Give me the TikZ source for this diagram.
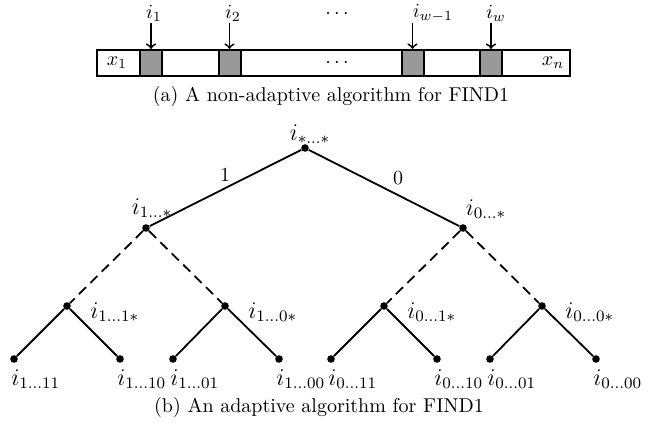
\documentclass[tikz,border=0pt]{standalone}
\usetikzlibrary{calc}
\begin{document}
\begin{tikzpicture}[x=0.5pt,y=0.5pt,
  cellbox/.style={draw, line width=1pt, minimum height=13pt, inner sep=0pt},
  graycell/.style={cellbox, fill=gray!80, minimum width=11pt},
  arr/.style={->, line width=0.9pt},
  dot/.style={circle, fill=black, inner sep=0pt, minimum size=3.8pt},
  lbl/.style={inner sep=0pt},
  tlbl/.style={inner sep=0pt, font=\large},
  solidedge/.style={line width=0.9pt},
  dashededge/.style={line width=0.9pt, dash pattern=on 5pt off 3pt}]
\useasboundingbox (0,0) rectangle (653,-431);
% (a) array
\node[cellbox, minimum width=236.5pt] (box) at (333.5,-63) {};
\node[graycell] (c1) at (151,-63) {};
\node[graycell] (c2) at (229.5,-63) {};
\node[graycell] (c3) at (412.5,-63) {};
\node[graycell] (c4) at (491,-63) {};
\node[lbl] (x1) at (117,-63) {$x_1$};
\node[lbl] (xd) at (337,-63) {$\cdots$};
\node[lbl] (xn) at (553,-63) {$x_n$};
\coordinate (a1) at ([yshift=13pt]c1.north);
\coordinate (a2) at ([yshift=13pt]c2.north);
\coordinate (a3) at ([yshift=13pt]c3.north);
\coordinate (a4) at ([yshift=13pt]c4.north);
\draw[arr] (a1) -- (c1.north);
\draw[arr] (a2) -- (c2.north);
\draw[arr] (a3) -- (c3.north);
\draw[arr] (a4) -- (c4.north);
\node[lbl] (i1) at (154,-13) {$i_1$};
\node[lbl] (i2) at (233,-13) {$i_2$};
\node[lbl] (id) at (337,-14) {$\cdots$};
\node[lbl] (iw1) at (433,-13) {$i_{w-1}$};
\node[lbl] (iw) at (496,-13) {$i_w$};
\node (capa) at (331,-97) {(a) A non-adaptive algorithm for FIND1};
% (b) tree
\node[dot] (r) at (305,-148) {};
\node[dot] (m1) at (146,-228) {};
\node[dot] (m0) at (463,-228) {};
\node[dot] (n11) at (67,-306) {};
\node[dot] (n10) at (225,-306) {};
\node[dot] (n01) at (384,-306) {};
\node[dot] (n00) at (542,-306) {};
\foreach \nm/\xx in {l111/14, l110/120, l101/173, l100/279, l011/331, l010/437, l001/490, l000/596}
  \node[dot] (\nm) at (\xx,-359) {};
\draw[solidedge] (r) -- (m1);
\draw[solidedge] (r) -- (m0);
\node[lbl] (e1) at (225,-175) {$1$};
\node[lbl] (e0) at (398,-178) {$0$};
\draw[dashededge] (m1) -- (n11);
\draw[dashededge] (m1) -- (n10);
\draw[dashededge] (m0) -- (n01);
\draw[dashededge] (m0) -- (n00);
\draw[solidedge] (n11) -- (l111);
\draw[solidedge] (n11) -- (l110);
\draw[solidedge] (n10) -- (l101);
\draw[solidedge] (n10) -- (l100);
\draw[solidedge] (n01) -- (l011);
\draw[solidedge] (n01) -- (l010);
\draw[solidedge] (n00) -- (l001);
\draw[solidedge] (n00) -- (l000);
\node[tlbl] (tr) at (310,-134) {$i_{*\ldots*}$};
\node[tlbl] (tm1) at (152,-208) {$i_{1\ldots*}$};
\node[tlbl] (tm0) at (486,-209) {$i_{0\ldots*}$};
\node[tlbl, anchor=west] (tn11) at ($(n11)+(23,-6)$) {$i_{1\ldots1*}$};
\node[tlbl, anchor=west] (tn10) at ($(n10)+(23,-6)$) {$i_{1\ldots0*}$};
\node[tlbl, anchor=west] (tn01) at ($(n01)+(23,-6)$) {$i_{0\ldots1*}$};
\node[tlbl, anchor=west] (tn00) at ($(n00)+(23,-6)$) {$i_{0\ldots0*}$};
\foreach \nm/\tx in {l111/{1\ldots11}, l110/{1\ldots10}, l101/{1\ldots01}, l100/{1\ldots00}, l011/{0\ldots11}, l010/{0\ldots10}, l001/{0\ldots01}, l000/{0\ldots00}}
  \node[tlbl, anchor=west] (t\nm) at ($(\nm)+(-3,-20)$) {$i_{\tx}$};
\node (capb) at (319,-408) {(b) An adaptive algorithm for FIND1};
\end{tikzpicture}
\end{document}
